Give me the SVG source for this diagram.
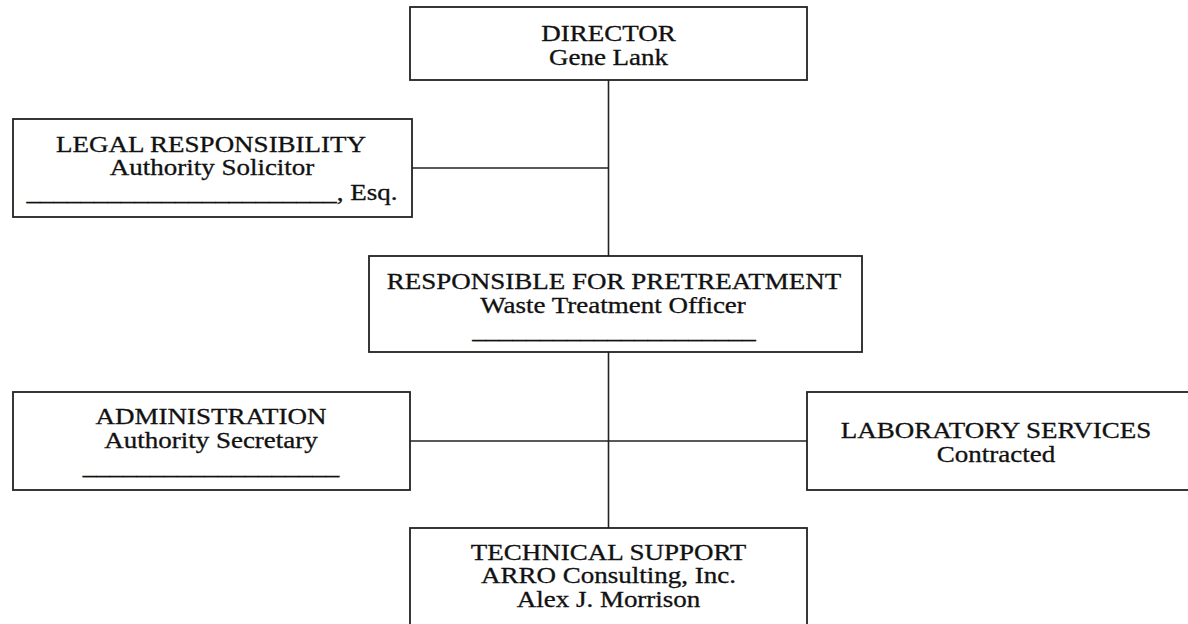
<svg xmlns="http://www.w3.org/2000/svg" width="1188" height="624" viewBox="0 0 1188 624">
<style>
.box{fill:#fff;stroke:#222;stroke-width:1.8}
.conn{stroke:#222;stroke-width:1.6;fill:none}
text{font-family:"Liberation Serif","Times New Roman",serif;font-size:22.5px;fill:#111;stroke:#111;stroke-width:0.3;text-anchor:middle}
</style>
<rect width="1188" height="624" fill="#fff"/>
<g id="connectors">
<line class="conn" x1="608.5" y1="80" x2="608.5" y2="256"/>
<line class="conn" x1="412" y1="168" x2="608.5" y2="168"/>
<line class="conn" x1="608.5" y1="352" x2="608.5" y2="528"/>
<line class="conn" x1="410" y1="441" x2="807" y2="441"/>
</g>
<g id="director">
<rect class="box" x="410" y="7" width="397" height="73"/>
<text transform="translate(608.5 41) scale(1.2 1)">DIRECTOR</text>
<text transform="translate(608.5 65) scale(1.2 1)">Gene Lank</text>
</g>
<g id="legal">
<rect class="box" x="13" y="119" width="399" height="98"/>
<text transform="translate(211 152) scale(1.2 1)">LEGAL RESPONSIBILITY</text>
<text transform="translate(212 175) scale(1.2 1)">Authority Solicitor</text>
<text transform="translate(212 200) scale(1.2 1)">_______________________, Esq.</text>
</g>
<g id="pretreatment">
<rect class="box" x="369" y="256" width="493" height="96"/>
<text transform="translate(614 289) scale(1.2 1)">RESPONSIBLE FOR PRETREATMENT</text>
<text transform="translate(613 313) scale(1.2 1)">Waste Treatment Officer</text>
<text transform="translate(614 338) scale(1.2 1)">_____________________</text>
</g>
<g id="administration">
<rect class="box" x="13" y="392" width="397" height="98"/>
<text transform="translate(211 424) scale(1.2 1)">ADMINISTRATION</text>
<text transform="translate(211 448) scale(1.2 1)">Authority Secretary</text>
<text transform="translate(211 474) scale(1.2 1)">___________________</text>
</g>
<g id="laboratory">
<rect class="box" x="807" y="392" width="390" height="98"/>
<text transform="translate(996 438) scale(1.2 1)">LABORATORY SERVICES</text>
<text transform="translate(996 462) scale(1.2 1)">Contracted</text>
</g>
<g id="technical">
<rect class="box" x="410" y="528" width="397" height="110"/>
<text transform="translate(608.5 560) scale(1.2 1)">TECHNICAL SUPPORT</text>
<text transform="translate(608.5 583) scale(1.2 1)">ARRO Consulting, Inc.</text>
<text transform="translate(608.5 607) scale(1.2 1)">Alex J. Morrison</text>
</g>
</svg>
